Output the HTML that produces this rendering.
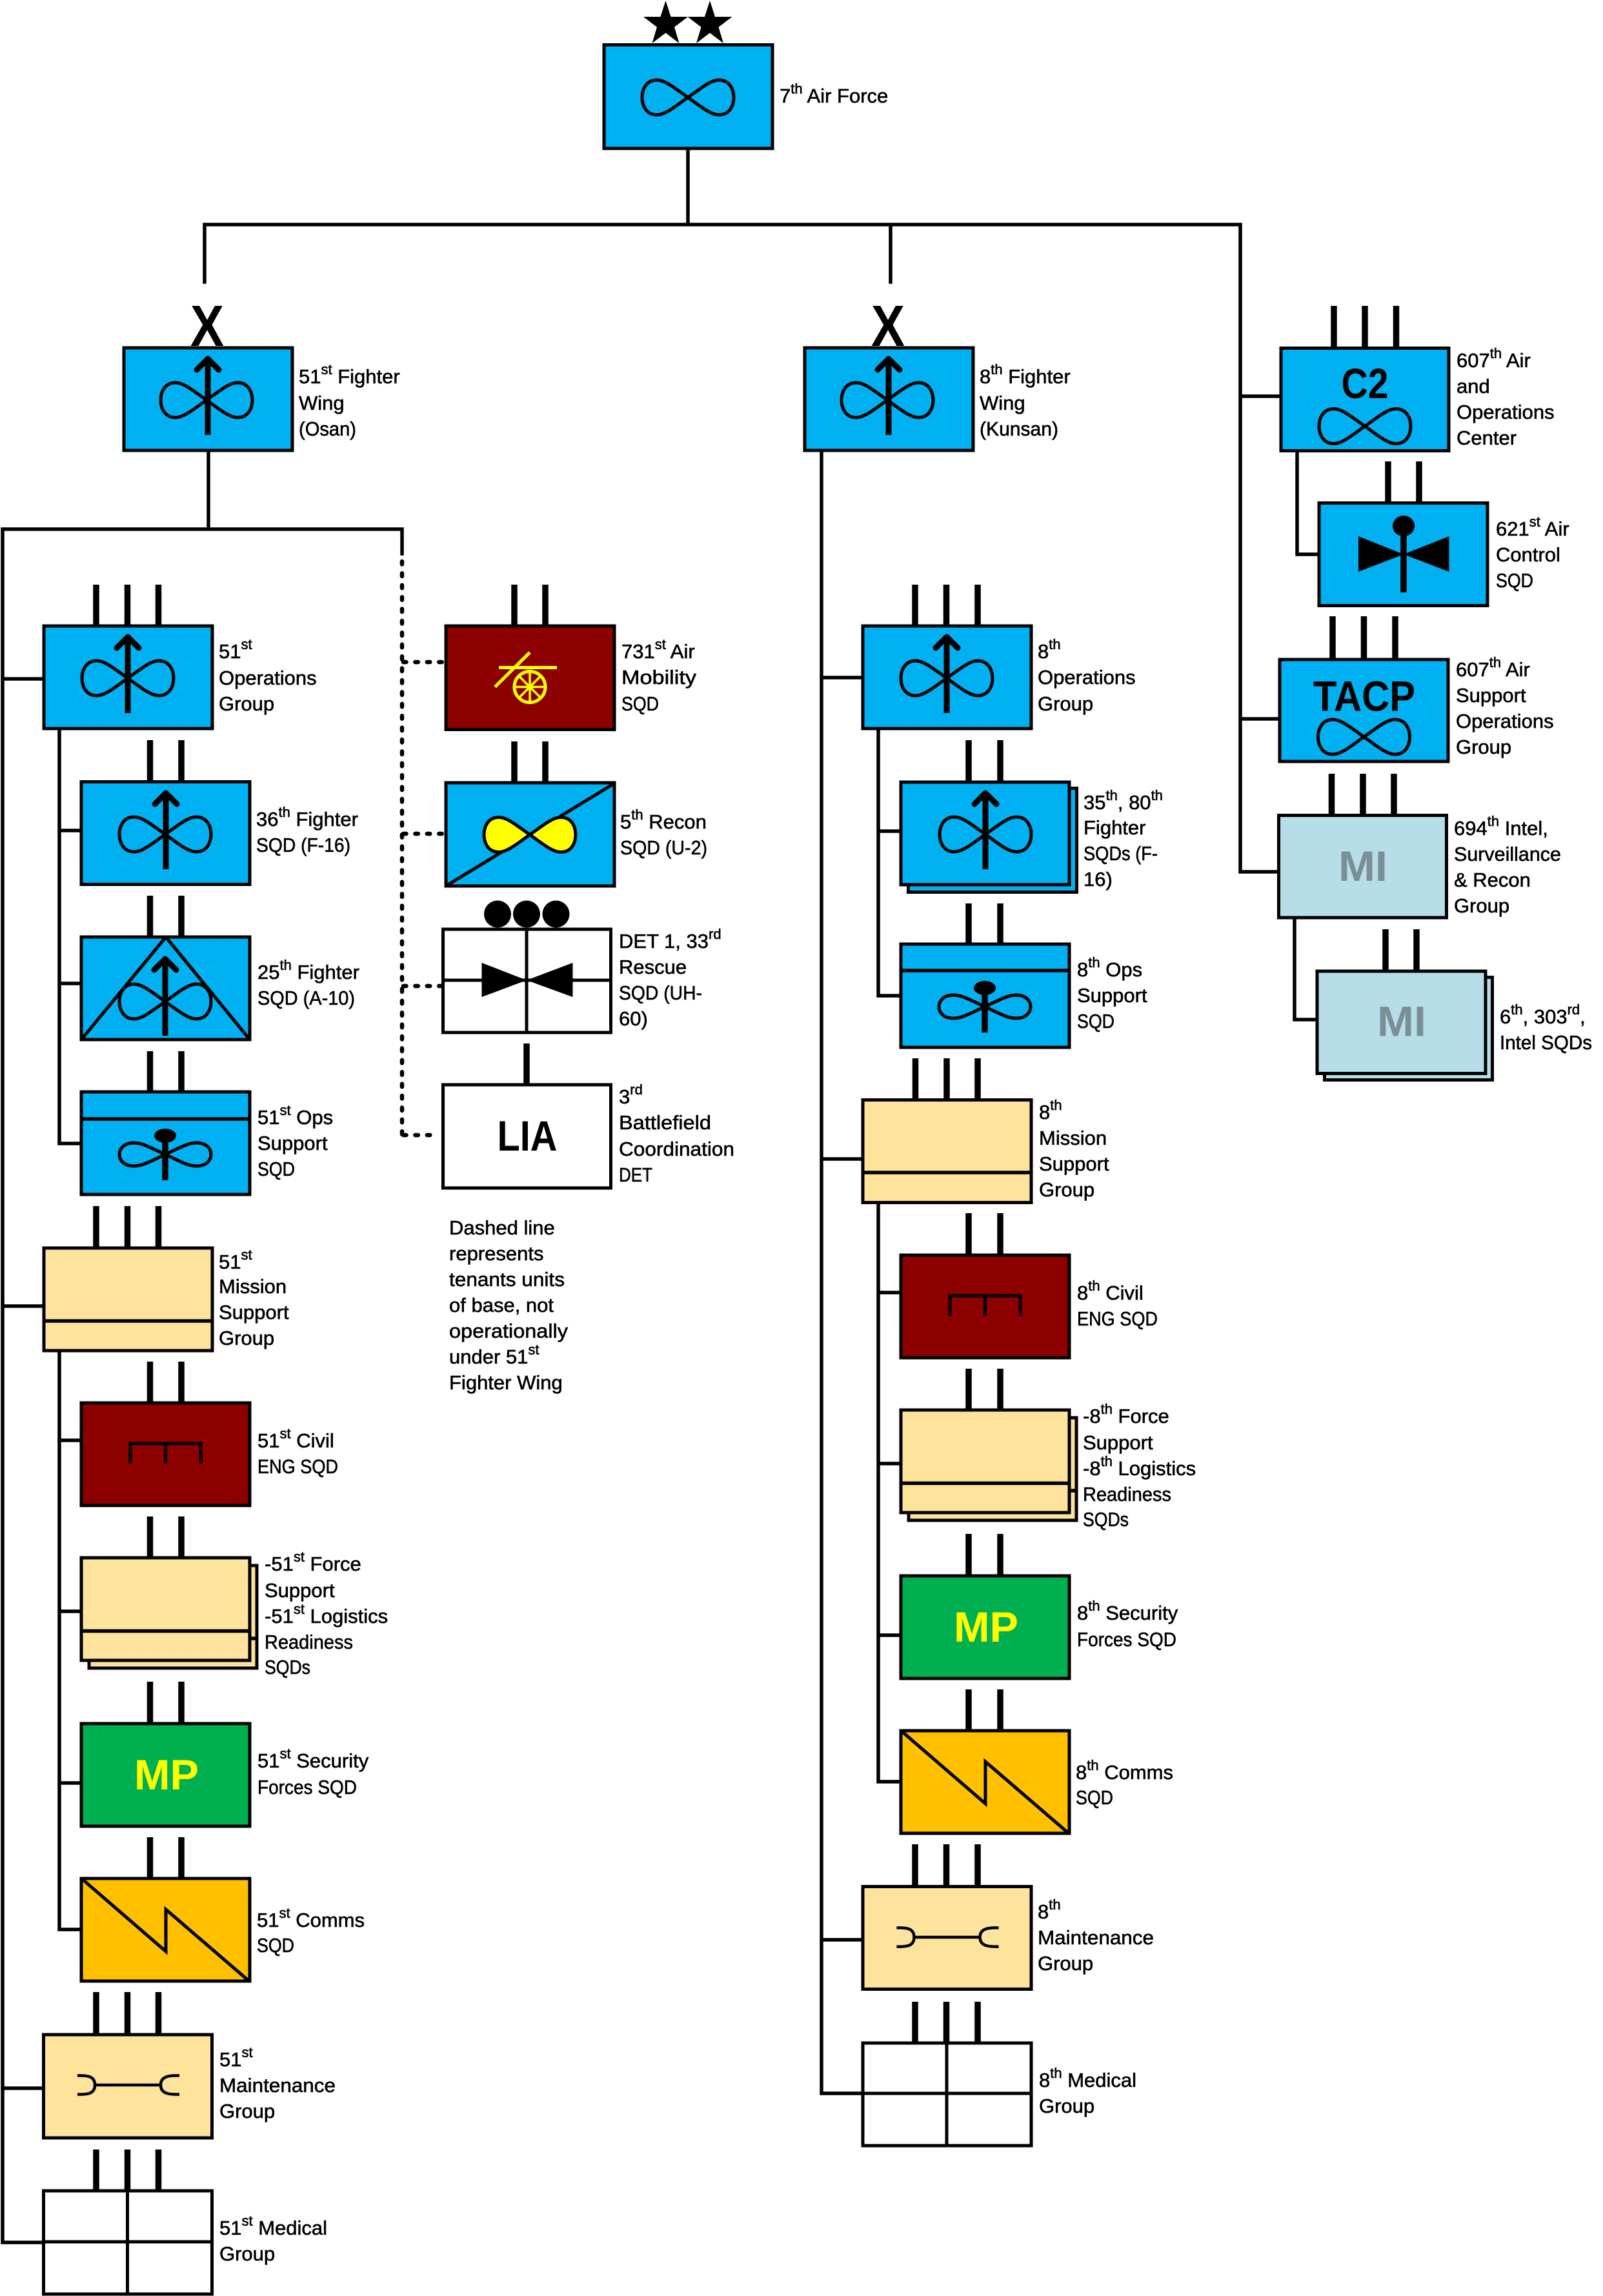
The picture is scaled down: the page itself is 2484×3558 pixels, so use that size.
<!DOCTYPE html>
<html><head><meta charset="utf-8"><style>
html,body{margin:0;padding:0;background:#fff}
svg{display:block}
text{font-family:"Liberation Sans",sans-serif;font-size:31px;fill:#000;stroke:#000;stroke-width:.6}
.s{font-size:22px}
.t{font-weight:bold;stroke:none;text-anchor:middle}
.r{stroke:#000;stroke-width:5;stroke-linejoin:miter}
.bl{fill:#00B0F0}.ma{fill:#8C0000}.ta{fill:#FDE39B}.gr{fill:#00B050}.or{fill:#FFC000}.wh{fill:#fff}.mi{fill:#B7DDE8}
.l{stroke:#000;stroke-width:5.5;fill:none;stroke-linecap:square}
.k{stroke:#000;stroke-width:9.5;fill:none}
.i{stroke:#000;stroke-width:5;fill:none;stroke-linejoin:round}
.a{stroke:#000;stroke-width:9;fill:none;stroke-linecap:round;stroke-linejoin:round}
.as{stroke:#000;stroke-width:9;fill:none}
.y{stroke:#FFFF00;stroke-width:5;fill:none}
.d{stroke:#000;stroke-width:6.5;fill:none;stroke-dasharray:4.5 13.9;stroke-linecap:round}
</style></head><body>
<svg xmlns="http://www.w3.org/2000/svg" width="2484" height="3558" viewBox="0 0 2484 3558">
<!-- connectors -->
<path class="l" d="M1066 230V348M317 437V348H1922V1351H1985M1380 348V437M1922 614H1985M1922 1114H1985"/>
<path class="l" d="M2010 700V859H2045M2006 1423V1580H2042"/>
<path class="l" d="M323 699V820M623 858V820H4V3475H68M4 1052H68M4 2024H68M4 3236H68"/>
<path class="l" d="M92 1130V1772H126M92 1287H126M92 1524H126M92 2094V2990H126M92 2232H126M92 2497H126M92 2763H126"/>
<path class="l" d="M1273 699V3244H1337M1273 1050H1337M1273 1796H1337M1273 3006H1337"/>
<path class="l" d="M1361 1130V1543H1396M1361 1288H1396M1361 1865V2761H1396M1361 2003H1396M1361 2268H1396M1361 2534H1396"/>
<path class="d" d="M623 870V1759"/>
<path class="d" d="M625 1026H690M625 1292H690M625 1528H686M625 1759H680"/>
<!-- ticks -->
<path class="k" d="M149 906V969M197.500 906V969M245.500 906V969M232.500 1147V1211M281 1147V1211M232.500 1388V1452M281 1388V1452M232.500 1629V1692M281 1629V1692M149 1869V1934M197.500 1869V1934M245.500 1869V1934M232.500 2110V2174M281 2110V2174M232.500 2350V2414M281 2350V2414M232.500 2606V2671M281 2606V2671M232.500 2847V2911M281 2847V2911M149 3087V3153M197.500 3087V3153M245.500 3087V3153M149 3331V3395M197.500 3331V3395M245.500 3331V3395"/>
<path class="k" d="M797 906V969M845 906V969M797 1149V1213M845 1149V1213M816 1617V1681"/>
<path class="k" d="M1418 906V969M1466.500 906V969M1515 906V969M1501 1147V1212M1550 1147V1212M1501 1400V1463M1550 1400V1463M1418.500 1640V1704M1467 1640V1704M1515 1640V1704M1501 1880V1945M1550 1880V1945M1501 2121V2186M1550 2121V2186M1501 2377V2442M1550 2377V2442M1501 2618V2683M1550 2618V2683M1418 2858V2923M1466.500 2858V2923M1515 2858V2923M1418 3102V3166M1466.500 3102V3166M1515 3102V3166"/>
<path class="k" d="M2067 474V539M2115 474V539M2163.500 474V539M2151 715V779M2199 715V779M2065 955V1021M2113.500 955V1021M2162 955V1021M2063.500 1199V1263M2112 1199V1263M2160 1199V1263M2147 1440V1505M2195 1440V1505"/>

<!-- stars -->
<polygon points="1031.500,1 1039.500,26 1066,26 1045,42 1052.500,67 1031.500,51 1010.500,67 1018,42 997,26 1023.500,26"/>
<polygon points="1100,1 1108,26 1134.500,26 1113.500,42 1121,67 1100,51 1079,67 1086.500,42 1065.500,26 1092,26"/>
<!-- 7th AF -->
<rect class="r bl" x="936" y="69.500" width="261" height="160.500"/>
<path class="i" transform="translate(1066 151)" d="M0 0C-20 -14-35-27-48-27C-65-27-71-12-71 0C-71 12-65 27-48 27C-35 27-20 14 0 0C20-14 35-27 48-27C65-27 71-12 71 0C71 12 65 27 48 27C35 27 20 14 0 0Z"/>
<!-- Wings -->
<text class="t" x="321" y="536" style="font-size:90px" textLength="52" lengthAdjust="spacingAndGlyphs">X</text>
<text class="t" x="1376" y="536" style="font-size:90px" textLength="52" lengthAdjust="spacingAndGlyphs">X</text>
<rect class="r bl" x="192" y="539" width="261" height="159"/>
<g transform="translate(322 538)"><path class="i" transform="translate(-2 82)" d="M0 0C-20-14-35-27-48-27C-65-27-71-12-71 0C-71 12-65 27-48 27C-35 27-20 14 0 0C20-14 35-27 48-27C65-27 71-12 71 0C71 12 65 27 48 27C35 27 20 14 0 0Z"/><path class="as" d="M0 20V136"/><path class="a" d="M-17 35L0 18L17 35"/></g>
<rect class="r bl" x="1247" y="539" width="261" height="159"/>
<g transform="translate(1377 538)"><path class="i" transform="translate(-2 82)" d="M0 0C-20-14-35-27-48-27C-65-27-71-12-71 0C-71 12-65 27-48 27C-35 27 -20 14 0 0C20-14 35-27 48-27C65-27 71-12 71 0C71 12 65 27 48 27C35 27 20 14 0 0Z"/><path class="as" d="M0 20V136"/><path class="a" d="M-17 35L0 18L17 35"/></g>

<!-- Left column -->
<rect class="r bl" x="68" y="970" width="261" height="159"/>
<g transform="translate(198 969)"><path class="i" transform="translate(0 82)" d="M0 0C-20-14-35-27-48-27C-65-27-71-12-71 0C-71 12-65 27-48 27C-35 27-20 14 0 0C20-14 35-27 48-27C65-27 71-12 71 0C71 12 65 27 48 27C35 27 20 14 0 0Z"/><path class="as" d="M0 20V136"/><path class="a" d="M-17 35L0 18L17 35"/></g>
<rect class="r bl" x="126" y="1211.500" width="261" height="159"/>
<g transform="translate(257 1211)"><path class="i" transform="translate(-1 82)" d="M0 0C-20-14-35-27-48-27C-65-27-71-12-71 0C-71 12-65 27-48 27C-35 27-20 14 0 0C20-14 35-27 48-27C65-27 71-12 71 0C71 12 65 27 48 27C35 27 20 14 0 0Z"/><path class="as" d="M0 20V136"/><path class="a" d="M-17 35L0 18L17 35"/></g>
<rect class="r bl" x="126" y="1452" width="261" height="159"/>
<g transform="translate(256 1451)"><path class="i" transform="translate(0 101)" d="M0 0C-20-14-35-27-48-27C-65-27-71-12-71 0C-71 12-65 27-48 27C-35 27-20 14 0 0C20-14 35-27 48-27C65-27 71-12 71 0C71 12 65 27 48 27C35 27 20 14 0 0Z"/><path class="as" d="M0 36V154"/><path class="a" d="M-17 52L0 35L17 52"/></g>
<path class="i" d="M126 1611L257 1452L387 1611"/>
<rect class="r bl" x="126" y="1692" width="261" height="159"/>
<path class="l" d="M127 1734H385"/>
<g transform="translate(256 1691)"><path class="i" transform="translate(0 98)" d="M0 0C-20-9-35-18-48-18C-65-18-71-8-71 0C-71 8-65 18-48 18C-35 18-20 9 0 0C20-9 35-18 48-18C65-18 71-8 71 0C71 8 65 18 48 18C35 18 20 9 0 0Z"/><ellipse cx="0" cy="69" rx="17" ry="11"/><path class="k" d="M0 69V138"/></g>
<rect class="r ta" x="68" y="1934" width="261" height="159"/>
<path class="l" d="M69 2047H327"/>
<rect class="r ma" x="126" y="2174" width="261" height="159"/>
<path class="i" style="stroke-linejoin:miter" d="M202 2268V2237H311V2268M256.500 2237V2268"/>
<rect class="r ta" x="138" y="2426" width="260" height="159"/>
<path class="l" d="M387 2539H396.500"/>
<rect class="r ta" x="126" y="2414" width="261" height="159"/>
<path class="l" d="M127 2527.500H385"/>
<rect class="r gr" x="126" y="2671" width="261" height="159"/>
<text class="t" x="258" y="2773" style="font-size:66px;fill:#FFFF00" textLength="100" lengthAdjust="spacingAndGlyphs">MP</text>
<rect class="r or" x="126" y="2911" width="261" height="159"/>
<path class="i" style="stroke-linejoin:miter" d="M128 2912.500L257 3024V2959L386 3070"/>
<rect class="r ta" x="67.500" y="3153" width="261" height="160"/>
<path class="i" d="M145 3231H251M120 3216.500C135 3216 147 3217 147 3231C147 3245 135 3246 120 3245.500M278 3216.500C263 3216 249 3217 249 3231C249 3245 263 3246 278 3245.500" style="stroke-width:4.500"/>
<rect class="r wh" x="67.500" y="3395" width="261" height="160"/>
<path class="i" d="M197.500 3396V3554M69 3474H327"/>

<!-- Tenants -->
<rect class="r ma" x="691" y="970" width="261" height="160.500"/>
<path class="y" d="M773 1034.500H863M767 1064.500L821 1011"/>
<ellipse class="y" cx="821" cy="1064.500" rx="24" ry="24"/>
<path class="y" style="stroke-width:3.500" d="M821 1040.500V1088.500M797 1064.500H845M804 1047.500L838 1081.500M838 1047.500L804 1081.500"/>
<rect class="r bl" x="691" y="1213" width="261" height="160"/>
<path class="i" d="M691 1373L952 1214"/>
<path class="i" style="fill:#FFFF00" transform="translate(821 1293.500)" d="M0 0C-20-14-35-27-48-27C-65-27-71-12-71 0C-71 12-65 27-48 27C-35 27-20 14 0 0C20-14 35-27 48-27C65-27 71-12 71 0C71 12 65 27 48 27C35 27 20 14 0 0Z"/>
<circle cx="771" cy="1416.500" r="21"/><circle cx="816" cy="1416.500" r="21"/><circle cx="861.500" cy="1416.500" r="21"/>
<rect class="r wh" x="686.500" y="1440" width="260" height="160"/>
<path class="i" d="M816 1441V1598M688 1519H945"/>
<polygon points="746.500,1492 816,1519 746.500,1545"/><polygon points="887.500,1492 816,1519 887.500,1545"/>
<rect class="r wh" x="686.500" y="1681" width="260" height="160"/>
<text class="t" x="817" y="1783" style="font-size:66px" textLength="93" lengthAdjust="spacingAndGlyphs">LIA</text>

<!-- Middle column -->
<rect class="r bl" x="1337" y="970" width="261" height="159"/>
<g transform="translate(1467 969)"><path class="i" transform="translate(0 82)" d="M0 0C-20-14-35-27-48-27C-65-27-71-12-71 0C-71 12-65 27-48 27C-35 27-20 14 0 0C20-14 35-27 48-27C65-27 71-12 71 0C71 12 65 27 48 27C35 27 20 14 0 0Z"/><path class="as" d="M0 20V136"/><path class="a" d="M-17 35L0 18L17 35"/></g>
<rect class="r bl" x="1407.500" y="1221.500" width="261" height="161"/>
<rect class="r bl" x="1396" y="1212" width="261" height="159"/>
<g transform="translate(1527 1211)"><path class="i" transform="translate(0 82)" d="M0 0C-20-14-35-27-48-27C-65-27-71-12-71 0C-71 12-65 27-48 27C-35 27-20 14 0 0C20-14 35-27 48-27C65-27 71-12 71 0C71 12 65 27 48 27C35 27 20 14 0 0Z"/><path class="as" d="M0 20V136"/><path class="a" d="M-17 35L0 18L17 35"/></g>
<rect class="r bl" x="1396" y="1463" width="261" height="160"/>
<path class="l" d="M1397 1504H1655"/>
<g transform="translate(1526 1462)"><path class="i" transform="translate(0 98)" d="M0 0C-20-9-35-18-48-18C-65-18-71-8-71 0C-71 8-65 18-48 18C-35 18-20 9 0 0C20-9 35-18 48-18C65-18 71-8 71 0C71 8 65 18 48 18C35 18 20 9 0 0Z"/><ellipse cx="0" cy="69" rx="17" ry="11"/><path class="k" d="M0 69V138"/></g>
<rect class="r ta" x="1337" y="1704.500" width="261" height="159"/>
<path class="l" d="M1338 1817H1596"/>
<rect class="r ma" x="1396" y="1945" width="261" height="159"/>
<path class="i" style="stroke-linejoin:miter" d="M1472 2039V2008H1581V2039M1526.500 2008V2039"/>
<rect class="r ta" x="1408" y="2197" width="260" height="159"/>
<path class="l" d="M1657 2310H1666.500"/>
<rect class="r ta" x="1396" y="2185" width="261" height="159"/>
<path class="l" d="M1397 2298.500H1655"/>
<rect class="r gr" x="1396" y="2442" width="261" height="159"/>
<text class="t" x="1528" y="2544" style="font-size:66px;fill:#FFFF00" textLength="100" lengthAdjust="spacingAndGlyphs">MP</text>
<rect class="r or" x="1396" y="2682" width="261" height="159"/>
<path class="i" style="stroke-linejoin:miter" d="M1398 2683.500L1527 2795V2730L1656 2841"/>
<rect class="r ta" x="1337" y="2923.500" width="261" height="159"/>
<path class="i" d="M1414.500 3002H1520.500M1389.500 2987.500C1404.500 2987 1416.500 2988 1416.500 3002C1416.500 3016 1404.500 3017 1389.500 3016.500M1547.500 2987.500C1532.500 2987 1518.500 2988 1518.500 3002C1518.500 3016 1532.500 3017 1547.500 3016.500" style="stroke-width:4.500"/>
<rect class="r wh" x="1337" y="3166" width="261" height="159"/>
<path class="i" d="M1467 3167V3324M1338.500 3244H1596.500"/>

<!-- Right column -->
<rect class="r bl" x="1985" y="539.500" width="260" height="159"/>
<text class="t" x="2115" y="617" style="font-size:66px" textLength="73" lengthAdjust="spacingAndGlyphs">C2</text>
<path class="i" transform="translate(2115 660.500)" d="M0 0C-20-14-35-27-48-27C-65-27-71-12-71 0C-71 12-65 27-48 27C-35 27-20 14 0 0C20-14 35-27 48-27C65-27 71-12 71 0C71 12 65 27 48 27C35 27 20 14 0 0Z"/>
<rect class="r bl" x="2044" y="779.500" width="261" height="159"/>
<polygon points="2105,831 2175,859 2105,886"/><polygon points="2245.500,831 2175,859 2245.500,886"/>
<ellipse cx="2175" cy="815" rx="17" ry="16"/><path class="k" d="M2175 815V918"/>
<rect class="r bl" x="1983" y="1022" width="261" height="158"/>
<text class="t" x="2114" y="1101.500" style="font-size:66px" textLength="158" lengthAdjust="spacingAndGlyphs">TACP</text>
<path class="i" transform="translate(2113.500 1142)" d="M0 0C-20-14-35-27-48-27C-65-27-71-12-71 0C-71 12-65 27-48 27C-35 27-20 14 0 0C20-14 35-27 48-27C65-27 71-12 71 0C71 12 65 27 48 27C35 27 20 14 0 0Z"/>
<rect class="r mi" x="1981.500" y="1263.500" width="260" height="158.500"/>
<text class="t" x="2112" y="1365" style="font-size:66px;fill:#7A8F95" textLength="76" lengthAdjust="spacingAndGlyphs">MI</text>
<rect class="r mi" x="2052.500" y="1514.500" width="260" height="159"/>
<rect class="r mi" x="2041" y="1505" width="261" height="158.500"/>
<text class="t" x="2172" y="1605.500" style="font-size:66px;fill:#7A8F95" textLength="76" lengthAdjust="spacingAndGlyphs">MI</text>

<!-- Labels -->
<text x="1208" y="159">7<tspan class="s" dy="-14">th</tspan><tspan dy="14"> Air Force</tspan></text>
<text x="463" y="594">51<tspan class="s" dy="-14">st</tspan><tspan dy="14"> Fighter</tspan></text><text x="463" y="635">Wing</text><text x="463" y="675" textLength="89" lengthAdjust="spacingAndGlyphs">(Osan)</text>
<text x="1518" y="594">8<tspan class="s" dy="-14">th</tspan><tspan dy="14"> Fighter</tspan></text><text x="1518" y="635">Wing</text><text x="1518" y="675" textLength="122" lengthAdjust="spacingAndGlyphs">(Kunsan)</text>
<text x="2257" y="569">607<tspan class="s" dy="-14">th</tspan><tspan dy="14"> Air</tspan></text><text x="2257" y="609">and</text><text x="2257" y="649">Operations</text><text x="2257" y="689">Center</text>
<text x="2318" y="830">621<tspan class="s" dy="-14">st</tspan><tspan dy="14"> Air</tspan></text><text x="2318" y="870">Control</text><text x="2318" y="910" textLength="58" lengthAdjust="spacingAndGlyphs">SQD</text>
<text x="2256" y="1048">607<tspan class="s" dy="-14">th</tspan><tspan dy="14"> Air</tspan></text><text x="2256" y="1088">Support</text><text x="2256" y="1128">Operations</text><text x="2256" y="1168">Group</text>
<text x="2253" y="1294">694<tspan class="s" dy="-14">th</tspan><tspan dy="14"> Intel,</tspan></text><text x="2253" y="1334" textLength="166" lengthAdjust="spacingAndGlyphs">Surveillance</text><text x="2253" y="1374">&amp; Recon</text><text x="2253" y="1414">Group</text>
<text x="2324" y="1586">6<tspan class="s" dy="-14">th</tspan><tspan dy="14">, 303</tspan><tspan class="s" dy="-14">rd</tspan><tspan dy="14">,</tspan></text><text x="2324" y="1626" textLength="143" lengthAdjust="spacingAndGlyphs">Intel SQDs</text>

<text x="339" y="1020">51<tspan class="s" dy="-14">st</tspan></text><text x="339" y="1061">Operations</text><text x="339" y="1101">Group</text>
<text x="397" y="1280">36<tspan class="s" dy="-14">th</tspan><tspan dy="14"> Fighter</tspan></text><text x="397" y="1320" textLength="146" lengthAdjust="spacingAndGlyphs">SQD (F-16)</text>
<text x="399" y="1517">25<tspan class="s" dy="-14">th</tspan><tspan dy="14"> Fighter</tspan></text><text x="399" y="1557" textLength="151" lengthAdjust="spacingAndGlyphs">SQD (A-10)</text>
<text x="399" y="1742">51<tspan class="s" dy="-14">st</tspan><tspan dy="14"> Ops</tspan></text><text x="399" y="1782">Support</text><text x="399" y="1822" textLength="58" lengthAdjust="spacingAndGlyphs">SQD</text>
<text x="339" y="1966">51<tspan class="s" dy="-14">st</tspan></text><text x="339" y="2004">Mission</text><text x="339" y="2044">Support</text><text x="339" y="2084">Group</text>
<text x="399" y="2243">51<tspan class="s" dy="-14">st</tspan><tspan dy="14"> Civil</tspan></text><text x="399" y="2283" textLength="125" lengthAdjust="spacingAndGlyphs">ENG SQD</text>
<text x="410" y="2434">-51<tspan class="s" dy="-14">st</tspan><tspan dy="14"> Force</tspan></text><text x="410" y="2475">Support</text><text x="410" y="2515">-51<tspan class="s" dy="-14">st</tspan><tspan dy="14"> Logistics</tspan></text><text x="410" y="2555" textLength="137" lengthAdjust="spacingAndGlyphs">Readiness</text><text x="410" y="2594" textLength="71" lengthAdjust="spacingAndGlyphs">SQDs</text>
<text x="399" y="2739">51<tspan class="s" dy="-14">st</tspan><tspan dy="14"> Security</tspan></text><text x="399" y="2780" textLength="154" lengthAdjust="spacingAndGlyphs">Forces SQD</text>
<text x="398" y="2986">51<tspan class="s" dy="-14">st</tspan><tspan dy="14"> Comms</tspan></text><text x="398" y="3025" textLength="58" lengthAdjust="spacingAndGlyphs">SQD</text>
<text x="340" y="3202">51<tspan class="s" dy="-14">st</tspan></text><text x="340" y="3242" textLength="180" lengthAdjust="spacingAndGlyphs">Maintenance</text><text x="340" y="3282">Group</text>
<text x="340" y="3463">51<tspan class="s" dy="-14">st</tspan><tspan dy="14"> Medical</tspan></text><text x="340" y="3503">Group</text>

<text x="963" y="1020">731<tspan class="s" dy="-14">st</tspan><tspan dy="14"> Air</tspan></text><text x="963" y="1060" textLength="116" lengthAdjust="spacingAndGlyphs">Mobility</text><text x="963" y="1101" textLength="58" lengthAdjust="spacingAndGlyphs">SQD</text>
<text x="961" y="1284">5<tspan class="s" dy="-14">th</tspan><tspan dy="14"> Recon</tspan></text><text x="961" y="1324" textLength="135" lengthAdjust="spacingAndGlyphs">SQD (U-2)</text>
<text x="959" y="1469">DET 1, 33<tspan class="s" dy="-14">rd</tspan></text><text x="959" y="1509">Rescue</text><text x="959" y="1549" textLength="129" lengthAdjust="spacingAndGlyphs">SQD (UH-</text><text x="959" y="1589">60)</text>
<text x="959" y="1710">3<tspan class="s" dy="-14">rd</tspan></text><text x="959" y="1750" textLength="143" lengthAdjust="spacingAndGlyphs">Battlefield</text><text x="959" y="1791" textLength="179" lengthAdjust="spacingAndGlyphs">Coordination</text><text x="959" y="1831" textLength="52" lengthAdjust="spacingAndGlyphs">DET</text>
<text x="696" y="1913">Dashed line</text><text x="696" y="1953">represents</text><text x="696" y="1993" textLength="179" lengthAdjust="spacingAndGlyphs">tenants units</text><text x="696" y="2033">of base, not</text><text x="696" y="2073" textLength="184" lengthAdjust="spacingAndGlyphs">operationally</text><text x="696" y="2113">under 51<tspan class="s" dy="-14">st</tspan></text><text x="696" y="2153">Fighter Wing</text>

<text x="1608" y="1020">8<tspan class="s" dy="-14">th</tspan></text><text x="1608" y="1060">Operations</text><text x="1608" y="1101">Group</text>
<text x="1679" y="1254">35<tspan class="s" dy="-14">th</tspan><tspan dy="14">, 80</tspan><tspan class="s" dy="-14">th</tspan></text><text x="1679" y="1293">Fighter</text><text x="1679" y="1333" textLength="115" lengthAdjust="spacingAndGlyphs">SQDs (F-</text><text x="1679" y="1373">16)</text>
<text x="1669" y="1513">8<tspan class="s" dy="-14">th</tspan><tspan dy="14"> Ops</tspan></text><text x="1669" y="1553">Support</text><text x="1669" y="1593" textLength="58" lengthAdjust="spacingAndGlyphs">SQD</text>
<text x="1610" y="1734">8<tspan class="s" dy="-14">th</tspan></text><text x="1610" y="1774">Mission</text><text x="1610" y="1814">Support</text><text x="1610" y="1854">Group</text>
<text x="1669" y="2014">8<tspan class="s" dy="-14">th</tspan><tspan dy="14"> Civil</tspan></text><text x="1669" y="2054" textLength="125" lengthAdjust="spacingAndGlyphs">ENG SQD</text>
<text x="1678" y="2205">-8<tspan class="s" dy="-14">th</tspan><tspan dy="14"> Force</tspan></text><text x="1678" y="2246">Support</text><text x="1678" y="2286">-8<tspan class="s" dy="-14">th</tspan><tspan dy="14"> Logistics</tspan></text><text x="1678" y="2326" textLength="137" lengthAdjust="spacingAndGlyphs">Readiness</text><text x="1678" y="2365" textLength="71" lengthAdjust="spacingAndGlyphs">SQDs</text>
<text x="1669" y="2510">8<tspan class="s" dy="-14">th</tspan><tspan dy="14"> Security</tspan></text><text x="1669" y="2551" textLength="154" lengthAdjust="spacingAndGlyphs">Forces SQD</text>
<text x="1667" y="2757">8<tspan class="s" dy="-14">th</tspan><tspan dy="14"> Comms</tspan></text><text x="1667" y="2796" textLength="58" lengthAdjust="spacingAndGlyphs">SQD</text>
<text x="1608" y="2973">8<tspan class="s" dy="-14">th</tspan></text><text x="1608" y="3013" textLength="180" lengthAdjust="spacingAndGlyphs">Maintenance</text><text x="1608" y="3053">Group</text>
<text x="1610" y="3234">8<tspan class="s" dy="-14">th</tspan><tspan dy="14"> Medical</tspan></text><text x="1610" y="3274">Group</text>
</svg>
</body></html>
